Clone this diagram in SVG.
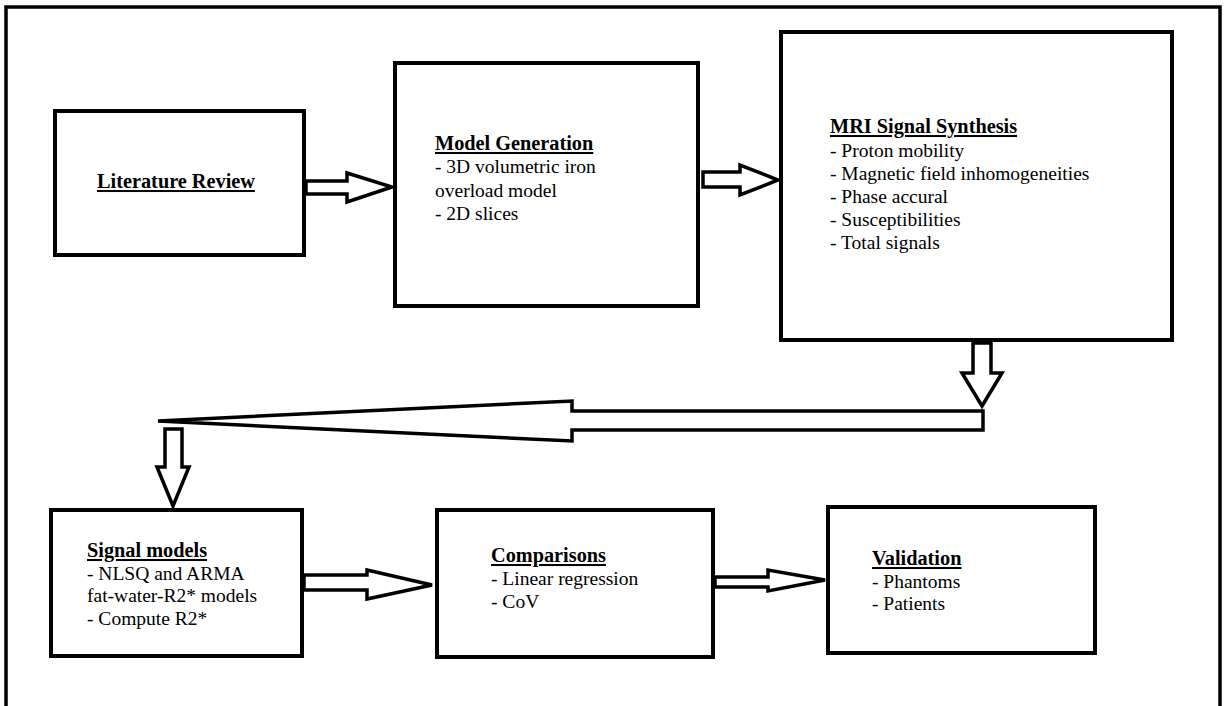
<svg xmlns="http://www.w3.org/2000/svg" width="1225" height="706" viewBox="0 0 1225 706">
  <style>
    .box { fill: #ffffff; stroke: #000000; stroke-width: 4; }
    .arrow { fill: #ffffff; stroke: #000000; stroke-width: 3.5; stroke-linejoin: miter; }
    .t { font-family: "Liberation Serif", "Times New Roman", serif; font-size: 19.5px; fill: #000000; }
    .h { font-weight: bold; font-size: 20.3px; text-decoration: underline; }
  </style>
  <rect width="1225" height="706" fill="#ffffff"/>
  <!-- outer frame -->
  <rect x="6" y="7" width="1214" height="720" fill="none" stroke="#000000" stroke-width="3.5"/>

  <g id="literature-review">
    <rect class="box" x="55" y="111" width="249" height="144"/>
    <text class="t h" x="176" y="188" text-anchor="middle">Literature Review</text>
  </g>

  <g id="model-generation">
    <rect class="box" x="395" y="63" width="303" height="243"/>
    <text class="t" x="435">
      <tspan class="h" x="435" y="150">Model Generation</tspan>
      <tspan x="435" y="173">- 3D volumetric iron</tspan>
      <tspan x="435" y="197">overload model</tspan>
      <tspan x="435" y="220">- 2D slices</tspan>
    </text>
  </g>

  <g id="mri-signal-synthesis">
    <rect class="box" x="781" y="32" width="391" height="308"/>
    <text class="t" x="830">
      <tspan class="h" x="830" y="133">MRI Signal Synthesis</tspan>
      <tspan x="830" y="157">- Proton mobility</tspan>
      <tspan x="830" y="180">- Magnetic field inhomogeneities</tspan>
      <tspan x="830" y="203">- Phase accural</tspan>
      <tspan x="830" y="226">- Susceptibilities</tspan>
      <tspan x="830" y="249">- Total signals</tspan>
    </text>
  </g>

  <g id="signal-models">
    <rect class="box" x="51" y="510" width="251" height="146"/>
    <text class="t" x="87">
      <tspan class="h" x="87" y="557">Signal models</tspan>
      <tspan x="87" y="580">- NLSQ and ARMA</tspan>
      <tspan x="87" y="602">fat-water-R2* models</tspan>
      <tspan x="87" y="625">- Compute R2*</tspan>
    </text>
  </g>

  <g id="comparisons">
    <rect class="box" x="437" y="510" width="276" height="147"/>
    <text class="t" x="491">
      <tspan class="h" x="491" y="562">Comparisons</tspan>
      <tspan x="491" y="585">- Linear regression</tspan>
      <tspan x="491" y="608">- CoV</tspan>
    </text>
  </g>

  <g id="validation">
    <rect class="box" x="828" y="507" width="267" height="146"/>
    <text class="t" x="872">
      <tspan class="h" x="872" y="565">Validation</tspan>
      <tspan x="872" y="588">- Phantoms</tspan>
      <tspan x="872" y="610">- Patients</tspan>
    </text>
  </g>

  <!-- block arrows between the stages -->
  <g id="connectors">
    <polygon class="arrow" points="306,181 347,181 347,173 392,187 347,202 347,194 306,194"/>
    <polygon class="arrow" points="703,172 740,172 740,165 778,180 740,195 740,187 703,187"/>
    <polygon class="arrow" points="973,343 991,343 991,373 1002,373 982,406 962,373 973,373"/>
    <polygon class="arrow" points="983,411 572,411 572,401 158,421 572,441 572,430 983,430"/>
    <polygon class="arrow" points="165,429 182,429 182,467 189,467 173,506 157,467 165,467"/>
    <polygon class="arrow" points="304,575 367,575 367,570 432,585 367,599 367,590 304,590"/>
    <polygon class="arrow" points="715,577 768,577 768,570 825,580 768,591 768,587 715,587"/>
  </g>
</svg>
